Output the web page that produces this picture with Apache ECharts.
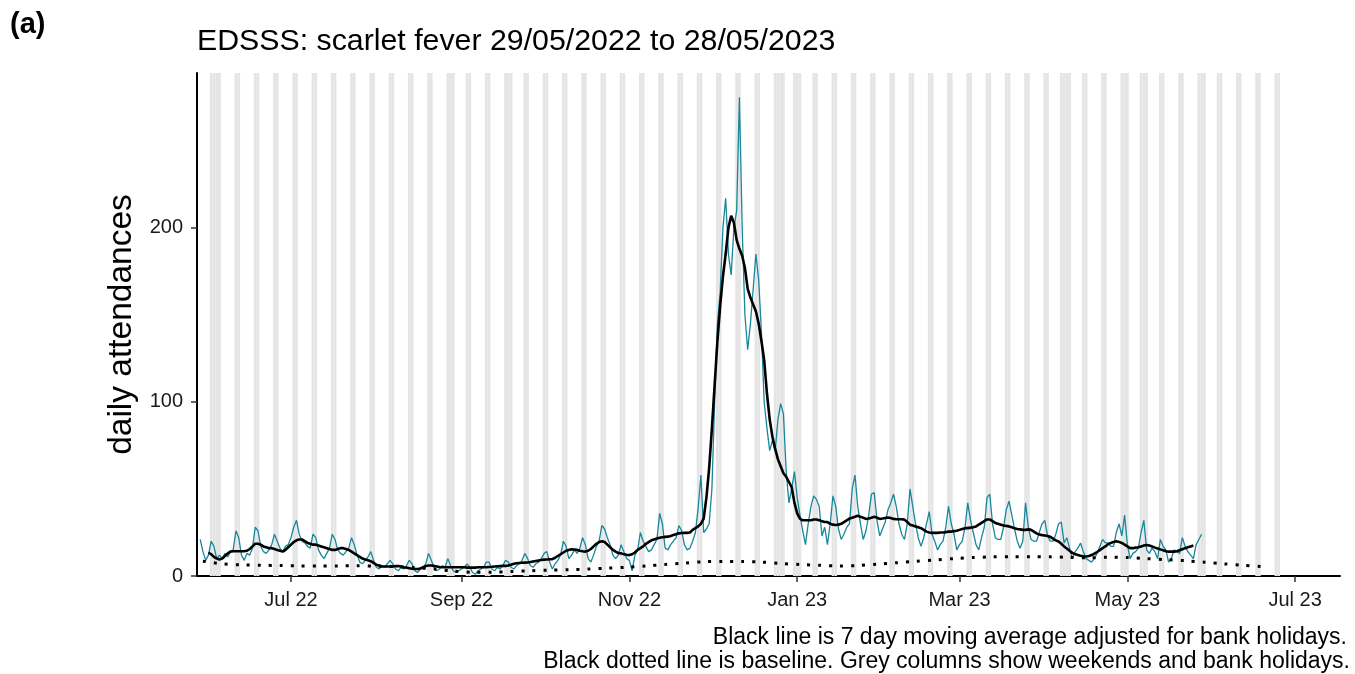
<!DOCTYPE html>
<html>
<head>
<meta charset="utf-8">
<script src="https://cdn.jsdelivr.net/npm/echarts@6/dist/echarts.min.js"></script>
<style>
html,body{margin:0;padding:0;background:#fff;}
#chart{width:1355px;height:674px;}
</style>
</head>
<body>
<div id="chart"></div>
<script>
// ---------------- DATA ----------------
const startDate = '2022-05-29';          // first daily value
// daily attendances, one value per day (Sun..Sat rows)
const daily = [
21,14,9,12,20,17,10,
12,10,13,11,14,15,26,
22,12,9,13,12,16,28,
26,17,14,13,15,18,24,
20,16,14,17,18,22,28,
32,24,20,19,17,16,24,
22,15,12,10,13,16,24,
21,15,13,12,14,16,22,
18,12,8,7,9,11,14,
9,5,4,6,5,7,9,
7,4,3,5,4,6,9,
7,3,2,4,5,7,13,
9,5,3,4,6,5,10,
6,3,2,3,4,5,7,
5,2,1,3,4,5,8,
8,4,3,5,4,6,9,
8,5,4,6,7,9,13,
10,6,5,7,8,10,13,
14,8,4,7,9,12,20,
17,10,12,15,13,16,22,
18,10,8,12,17,20,29,
27,22,18,12,10,12,18,
14,10,9,3,12,15,25,
20,17,14,15,18,21,36,
30,16,15,18,20,22,29,
26,18,15,16,20,25,39,
58,25,27,30,50,100,145,
163,200,217,185,173,200,210,
275,200,150,130,145,165,185,
170,140,100,85,72,78,72,
90,99,93,60,42,50,60,
45,35,26,18,30,40,46,
44,40,23,28,18,30,46,
40,27,21,24,28,30,50,
58,40,30,21,26,35,47,
48,32,23,27,31,38,42,
47,40,30,24,21,30,50,
40,30,22,17,22,30,37,
24,20,15,18,20,28,40,
30,24,15,18,20,28,42,
32,25,18,15,22,28,45,
47,30,22,21,21,28,38,
43,35,27,20,16,20,42,
28,21,20,20,25,30,32,
23,20,20,24,30,31,19,
22,16,10,14,16,19,14,
10,9,8,10,13,17,21,
19,19,17,17,25,30,23,
35,18,10,13,14,16,25,
32,15,13,16,14,10,21,
17,15,8,10,15,14,13,
22,17,14,12,10,18,21,
24
];

// 7 day moving average (adjusted), one value per day from maStart
const maStart = '2022-06-01';
const movingAverage = [
13.5,12.5,11,10,9.5,10,11.5,13,
14,14.2,14.2,14.2,14.2,14.3,14.5,15.5,17,18.5,
18.5,18,17,16.5,16,16,15.5,15,14.5,14,
15,16.5,18,19.5,20.5,21,21,20,19,18.5,
18,18,17.5,17,16.5,16,15.5,15,15,15.5,
16,16,15.5,15,14,13,12,11,10,9.5,
9,8.5,7.5,6.5,6,5.5,5.5,5.5,5.5,5.5,
5.7,5.7,5.5,5,4.8,4.5,4.2,4,4,4.3,
5,5.7,6,6,5.8,5.5,5.2,5,5,5,
5,5,5,5,5,5,4.8,4.8,4.8,4.8,
5,5,5,5,5.2,5.3,5.5,5.6,5.7,5.8,
5.8,6,6.5,7,7.3,7.5,7.6,7.7,7.8,8,
8.3,8.6,8.9,9.2,9.4,9.5,9.6,9.7,10.5,11.5,
12.5,13.5,14.5,15,15.4,15.2,15,14.5,14.2,14,
14.5,15.5,17,18.5,19.5,20,19.5,18,16.5,15,
14,13.2,13,12.5,12.2,12,12.5,13.5,15,16,
17,18.5,19.5,20.5,21,21.5,22,22.3,22.5,22.6,
23,23.5,24,24.5,24.7,24.8,24.8,25,26.5,27.5,
28.5,30,33,45,62,85,110,135,155,172,
185,200,207,203,193,188,184,177,165,160,
156,152,145,135,124,105,90,80,73,67,
63,59,57,54,51,42,36,33,32,32,
32,32,32.5,32.5,32,31.5,31,31,30,29.5,
29.3,29.5,30,31,32,33,33.5,34,34.6,34,
33.5,32.8,33,33.5,34,33.5,32.8,33,33.3,33.6,
33.3,32.8,32.6,32.6,32.6,32.4,31,29.5,29,28.5,
28,27.5,26.5,25.5,25,24.8,24.8,24.8,25,25,
25.2,25.5,25.5,25.8,26,26.5,27,27.5,27.5,27.8,
28,28.5,29.5,30.5,31.5,32.5,32.5,31.5,30.5,30,
29.5,29,28.8,28.5,28,27.5,27,26.8,26.5,26.5,
26.8,26.5,25.5,24.5,23.8,23.5,23.3,23,22.5,21.5,
20.5,19.8,18.5,17,15.8,14.5,13.3,12.6,12,11.6,
11.3,11.2,11.5,12,12.8,13.8,14.9,16,17,18.3,
19,19.6,20,19.6,19,18,17,16,16,16.3,
16.5,17,17.5,17.8,17.5,17,16.3,15.8,15.3,14.8,
14.2,14,14,14,14.2,14.8,15.4,16,16.5,17,17.5
];

// baseline, one value per week from baselineStart
const baselineStart = '2022-05-30';
const baseline = [
8.5,7.0,6.4,6.2,6.0,5.8,5.8,5.8,5.9,5.6,
5.4,4.8,4.0,2.8,2.2,2.2,2.6,3.0,3.4,3.6,
4.0,4.5,5.0,5.8,6.6,7.4,8.2,8.4,8.3,8.0,
7.2,6.6,6.2,5.8,6.0,6.8,7.6,8.4,9.2,10.0,
10.6,11.0,11.1,11.1,11.0,10.7,10.4,10.8,10.6,10.0,
9.4,8.8,7.9,7.0,6.2,5.4
];

// grey columns: weekends between these dates plus bank holidays
const columnsFrom = '2022-05-30';
const columnsTo = '2023-06-25';
const bankHolidays = ['2022-06-02','2022-06-03','2022-08-29','2022-09-19',
  '2022-12-26','2022-12-27','2023-01-02','2023-04-07','2023-04-10',
  '2023-05-01','2023-05-08','2023-05-29'];

const xTickDates = ['2022-07-01','2022-09-01','2022-11-01','2023-01-01','2023-03-01','2023-05-01','2023-07-01'];
const xTickLabels = ['Jul 22','Sep 22','Nov 22','Jan 23','Mar 23','May 23','Jul 23'];
const yTicks = [0, 100, 200];

const titleText = 'EDSSS: scarlet fever 29/05/2022 to 28/05/2023';
const captionLines = ['Black line is 7 day moving average adjusted for bank holidays.',
  'Black dotted line is baseline. Grey columns show weekends and bank holidays.'];

// ---------------- BUILD ----------------
const DAY = 86400000;
const ts = s => Date.parse(s + 'T00:00:00Z');
const t0 = ts(startDate);
const dailyData = daily.map((v, i) => [t0 + i * DAY, v]);
const maT0 = ts(maStart);
const maData = movingAverage.map((v, i) => [maT0 + i * DAY, v]);
const bT0 = ts(baselineStart);
const baseData = baseline.map((v, i) => [bT0 + i * 7 * DAY, v]);

const bh = new Set(bankHolidays.map(ts));
const cols = [];
for (let t = ts(columnsFrom); t <= ts(columnsTo); t += DAY) {
  const d = new Date(t).getUTCDay();
  if (d === 0 || d === 6 || bh.has(t)) {
    cols.push([{ xAxis: t - DAY / 2 }, { xAxis: t + DAY / 2 }]);
  }
}
const tickTs = xTickDates.map(ts);
const labelOf = {};
tickTs.forEach((t, i) => { labelOf[t] = xTickLabels[i]; });

const FONT = '"Liberation Sans", Arial, sans-serif';
const chart = echarts.init(document.getElementById('chart'), null, { renderer: 'canvas' });
chart.setOption({
  animation: false,
  backgroundColor: '#ffffff',
  grid: { left: 197, right: 15, top: 73, bottom: 98, containLabel: false },
  xAxis: {
    type: 'value',
    min: t0 - 1.16 * DAY,
    max: t0 + 414.3 * DAY,
    axisLine: { show: true, onZero: false, lineStyle: { color: '#000', width: 2 } },
    axisTick: { show: true, customValues: tickTs, length: 6, lineStyle: { color: '#333', width: 1.5 } },
    axisLabel: {
      customValues: tickTs,
      formatter: v => labelOf[v] || '',
      color: '#1a1a1a', fontSize: 20, fontFamily: FONT, margin: 14
    },
    splitLine: { show: false }
  },
  yAxis: {
    type: 'value',
    min: 0, max: 289,
    name: 'daily attendances',
    nameLocation: 'middle',
    nameGap: 55,
    nameRotate: 90,
    nameTextStyle: { fontSize: 33.5, fontFamily: FONT, color: '#000' },
    axisLine: { show: true, onZero: false, lineStyle: { color: '#000', width: 2 } },
    axisTick: { show: true, customValues: yTicks, length: 6, lineStyle: { color: '#333', width: 1.5 } },
    axisLabel: { customValues: yTicks, color: '#1a1a1a', fontSize: 20, fontFamily: FONT, margin: 14 },
    splitLine: { show: false }
  },
  series: [
    {
      name: 'columns', type: 'line', data: [], silent: true, z: 0,
      markArea: { silent: true, itemStyle: { color: '#e5e5e5' }, data: cols }
    },
    {
      name: 'daily', type: 'line', data: dailyData, showSymbol: false, z: 2,
      lineStyle: { color: '#17879b', width: 1.3 }, itemStyle: { color: '#17879b' }
    },
    {
      name: 'baseline', type: 'line', data: baseData, showSymbol: false, z: 3, smooth: 0.3,
      lineStyle: { color: '#000', width: 3, type: [3, 8], cap: 'butt' }
    },
    {
      name: 'moving average', type: 'line', data: maData, showSymbol: false, z: 4,
      lineStyle: { color: '#000', width: 2.6 }
    }
  ],
  graphic: [
    { type: 'text', x: 10, y: 25, style: { text: '(a)', font: 'bold 29px ' + FONT, fill: '#000', align: 'left', verticalAlign: 'middle' } },
    { type: 'text', x: 197, y: 42, style: { text: titleText, font: '30.3px ' + FONT, fill: '#000', align: 'left', verticalAlign: 'middle' } },
    { type: 'text', x: 1347, y: 638, style: { text: captionLines[0], font: '23px ' + FONT, fill: '#000', align: 'right', verticalAlign: 'middle' } },
    { type: 'text', x: 1350, y: 662, style: { text: captionLines[1], font: '23px ' + FONT, fill: '#000', align: 'right', verticalAlign: 'middle' } }
  ]
});
</script>
</body>
</html>
